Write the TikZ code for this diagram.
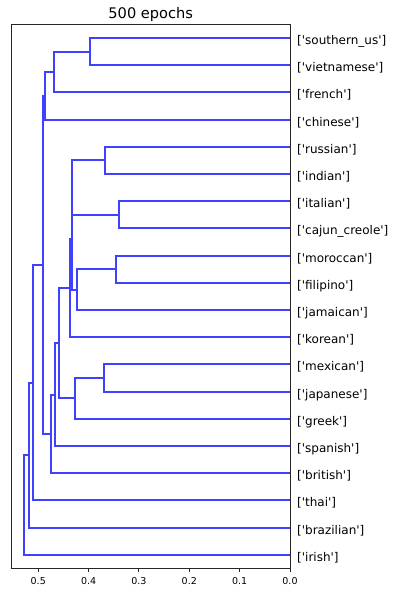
\documentclass[tikz,border=0pt]{standalone}
\usepackage{fontspec}
\setmainfont{DejaVu Sans}
\definecolor{linkblue}{RGB}{64,64,255}
\definecolor{spinegray}{RGB}{38,38,38}
\newcommand\cuisine[1]{[\textquotesingle#1\textquotesingle]}
\begin{document}
\begin{tikzpicture}[x=1pt,y=-1pt,
  link/.style={draw=linkblue, line width=2pt},
  spine/.style={draw=spinegray, line width=1pt},
  leaflabel/.style={anchor=base west, inner sep=0pt, font=\fontsize{12}{14}\selectfont},
  ticklabel/.style={anchor=base, inner sep=0pt, font=\fontsize{9.5}{11}\selectfont},
  titlelabel/.style={anchor=base, inner sep=0pt, font=\fontsize{14.6}{17}\selectfont}]
\useasboundingbox (0,0) rectangle (395,592);

\node[titlelabel] (title) at (150.75,18.5) {500 epochs};

% data frame: x = merge distance (0 at the right spine), y = leaf slot 5,15,...,195
\begin{scope}[xshift=290pt, yshift=-24.5pt, x=-503.5pt, y=-2.719pt]
  % leaves
  \foreach \i in {0,...,19} {
    \coordinate (l\i) at (0,{5+10*\i});
  }
  % merge points (height, centre of the two children)
  \coordinate (P) at (0.3972,10);
  \coordinate (Q) at (0.4687,17.5);
  \coordinate (R) at (0.4866,26.25);
  \coordinate (A) at (0.3674,50);
  \coordinate (B) at (0.3396,70);
  \coordinate (C) at (0.4320,60);
  \coordinate (D) at (0.3462,90);
  \coordinate (E) at (0.4236,97.5);
  \coordinate (F) at (0.4338,78.75);
  \coordinate (G) at (0.4372,96.875);
  \coordinate (J) at (0.3694,130);
  \coordinate (I) at (0.4270,137.5);
  \coordinate (H) at (0.4582,117.19);
  \coordinate (K) at (0.4667,136.09);
  \coordinate (L) at (0.4753,150.55);
  \coordinate (M) at (0.4912,88.4);
  \coordinate (S) at (0.5110,131.7);
  \coordinate (T) at (0.5178,158.35);
  \coordinate (U) at (0.5283,176.68);

  % links
  \draw[link] (l0) -| (P) |- (l1);
  \draw[link] (P) -| (Q) |- (l2);
  \draw[link] (Q) -| (R) |- (l3);
  \draw[link] (l4) -| (A) |- (l5);
  \draw[link] (l6) -| (B) |- (l7);
  \draw[link] (A) -| (C) |- (B);
  \draw[link] (l8) -| (D) |- (l9);
  \draw[link] (D) -| (E) |- (l10);
  \draw[link] (C) -| (F) |- (E);
  \draw[link] (F) -| (G) |- (l11);
  \draw[link] (l12) -| (J) |- (l13);
  \draw[link] (J) -| (I) |- (l14);
  \draw[link] (G) -| (H) |- (I);
  \draw[link] (H) -| (K) |- (l15);
  \draw[link] (K) -| (L) |- (l16);
  \draw[link] (R) -| (M) |- (L);
  \draw[link] (M) -| (S) |- (l17);
  \draw[link] (S) -| (T) |- (l18);
  \draw[link] (T) -| (U) |- (l19);

  % axes frame and ticks
  \draw[spine] (0.5531,0) rectangle (0,200);
  \foreach \v in {0.5,0.4,0.3,0.2,0.1,0.0} {
    \draw[spine] (\v,200) -- ++(0pt,-3.5pt);
    \node[ticklabel] at ([yshift=-15.7pt]\v,200) {\v};
  }

  % leaf labels
  \foreach \i/\name in {0/southern\_us, 1/vietnamese, 2/french, 3/chinese,
      4/russian, 5/indian, 6/italian, 7/cajun\_creole, 8/moroccan, 9/filipino,
      10/jamaican, 11/korean, 12/mexican, 13/japanese, 14/greek, 15/spanish,
      16/british, 17/thai, 18/brazilian, 19/irish} {
    \node[leaflabel] (lab\i) at ([shift={(7pt,-6.5pt)}]l\i) {\cuisine{\name}};
  }
\end{scope}
\end{tikzpicture}
\end{document}
